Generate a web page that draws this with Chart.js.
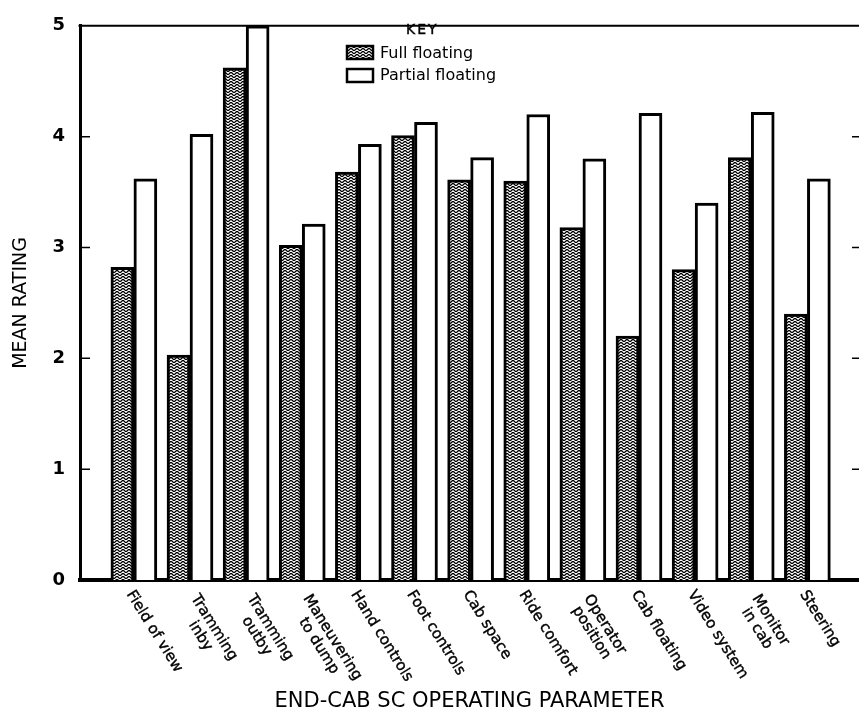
<!DOCTYPE html>
<html lang="en">
<head>
<meta charset="UTF-8">
<title>End-cab SC operating parameter ratings</title>
<script src="https://cdn.jsdelivr.net/npm/chart.js"></script>
<style>
  html, body { margin: 0; padding: 0; background: #fff; }
  .chart-box { position: relative; width: 859px; height: 717px; }
</style>
</head>
<body>
<div class="chart-box"><canvas id="ratingChart"></canvas></div>
<script>
// categories (one array of lines per label)
const parameters = [
    ['Field of view'], ['Tramming', 'inby'], ['Tramming', 'outby'], ['Maneuvering', 'to dump'],
    ['Hand controls'], ['Foot controls'], ['Cab space'], ['Ride comfort'],
    ['Operator', 'position'], ['Cab floating'], ['Video system'], ['Monitor', 'in cab'], ['Steering']
];
const fullFloating    = [2.82, 2.03, 4.62, 3.02, 3.68, 4.01, 3.61, 3.60, 3.18, 2.20, 2.80, 3.81, 2.40];
const partialFloating = [3.62, 4.02, 5.00, 3.21, 3.93, 4.13, 3.81, 4.20, 3.80, 4.21, 3.40, 4.22, 3.62];
const ratingTicks = [0, 1, 2, 3, 4, 5];

const FONT = '"DejaVu Sans", sans-serif';
Chart.defaults.font.family = FONT;
Chart.defaults.color = '#000';

// wavy-line hatch used for the "full floating" bars
function makeWaveTile() {
    const tile = document.createElement('canvas');
    tile.width = 6;
    tile.height = 3;
    const t = tile.getContext('2d');
    t.fillStyle = '#fff';
    t.fillRect(0, 0, 6, 3);
    t.strokeStyle = '#000';
    t.lineWidth = 1.3;
    t.beginPath();
    for (let px = -1; px <= 7; px += 0.5) {
        const py = 1.5 + Math.cos(px / 6 * 2 * Math.PI);
        if (px === -1) t.moveTo(px, py); else t.lineTo(px, py);
    }
    t.stroke();
    return tile;
}

const ctx = document.getElementById('ratingChart').getContext('2d');
const wave = ctx.createPattern(makeWaveTile(), 'repeat');

const framePlugin = {
    id: 'frame',
    afterDraw(chart) {
        const { ctx, chartArea: a, scales: { x, y } } = chart;
        ctx.save();
        ctx.strokeStyle = '#000';
        ctx.fillStyle = '#000';

        // top frame line
        ctx.lineWidth = 2;
        ctx.beginPath();
        ctx.moveTo(a.left - 1.5, a.top);
        ctx.lineTo(a.right, a.top);
        ctx.stroke();

        // inward tick marks on both sides
        ctx.lineWidth = 1.5;
        ratingTicks.slice(1, -1).forEach(v => {
            const py = y.getPixelForValue(v);
            ctx.beginPath();
            ctx.moveTo(a.left, py); ctx.lineTo(a.left + 10, py);
            ctx.moveTo(a.right - 7, py); ctx.lineTo(a.right, py);
            ctx.stroke();
        });

        // slanted category labels (thin outline gives a medium weight)
        ctx.font = '15px ' + FONT;
        ctx.lineWidth = 0.4;
        ctx.textBaseline = 'top';
        ctx.textAlign = 'center';
        const ang = 58 * Math.PI / 180;
        parameters.forEach((lines, i) => {
            const px = x.getPixelForValue(i);
            const n = lines.length;
            const maxW = Math.max(...lines.map(l => ctx.measureText(l).width));
            ctx.save();
            ctx.translate(px + 2 + (n - 1) * 8.5, a.bottom + 8 + (n - 1) * 4);
            ctx.rotate(ang);
            lines.forEach((l, j) => {
                ctx.fillText(l, maxW / 2, j * 16);
                ctx.strokeText(l, maxW / 2, j * 16);
            });
            ctx.restore();
        });

        // key
        ctx.textBaseline = 'middle';
        ctx.textAlign = 'left';
        ctx.font = '14px ' + FONT;
        ctx.letterSpacing = '2px';
        ctx.fillText('KEY', 406, 30);
        ctx.strokeText('KEY', 406, 30);
        ctx.letterSpacing = '0px';
        ctx.font = '16px ' + FONT;
        ctx.lineWidth = 2.5;
        ctx.fillStyle = wave;
        ctx.fillRect(347, 46, 26, 13);
        ctx.strokeRect(347, 46, 26, 13);
        ctx.fillStyle = '#fff';
        ctx.fillRect(347, 69, 26, 13);
        ctx.strokeRect(347, 69, 26, 13);
        ctx.fillStyle = '#000';
        ctx.fillText('Full floating', 380, 54);
        ctx.fillText('Partial floating', 380, 76);
        ctx.restore();
    }
};

new Chart(ctx, {
    type: 'bar',
    data: {
        datasets: [
            {
                label: 'Full floating',
                data: fullFloating.map((v, i) => ({ x: i, y: v })),
                backgroundColor: wave,
                borderColor: '#000',
                borderWidth: 3
            },
            {
                label: 'Partial floating',
                data: partialFloating.map((v, i) => ({ x: i, y: v })),
                backgroundColor: '#fff',
                borderColor: '#000',
                borderWidth: 3
            }
        ]
    },
    options: {
        responsive: true,
        maintainAspectRatio: false,
        animation: false,
        layout: { padding: { top: 16, right: 0, bottom: 0, left: 0 } },
        datasets: { bar: { barThickness: 23 } },
        plugins: { legend: { display: false }, tooltip: { enabled: false } },
        scales: {
            x: {
                type: 'linear',
                offset: false,
                min: -0.96,
                max: 12.92,
                grid: { display: false, drawTicks: false },
                border: { color: '#000', width: 4 },
                ticks: { display: false },
                title: {
                    display: true,
                    text: 'END-CAB SC OPERATING PARAMETER',
                    font: { size: 21 },
                    padding: { top: 0, bottom: 3 }
                },
                afterFit: s => { s.height = 137; }
            },
            y: {
                min: 0,
                max: 5,
                grid: { display: false, drawTicks: false },
                border: { color: '#000', width: 3 },
                ticks: { stepSize: 1, padding: 15, font: { size: 18, weight: 'bold' } },
                afterBuildTicks: s => { s.ticks = ratingTicks.map(v => ({ value: v })); },
                title: {
                    display: true,
                    text: 'MEAN RATING',
                    font: { size: 19 },
                    padding: { top: 10, bottom: 0 }
                },
                afterFit: s => { s.width = 80; }
            }
        }
    },
    plugins: [framePlugin]
});
</script>
</body>
</html>
